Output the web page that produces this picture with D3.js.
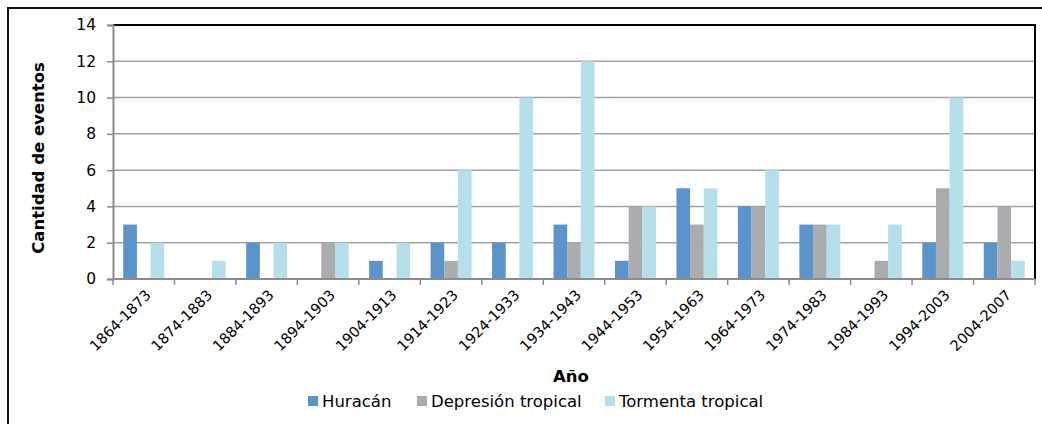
<!DOCTYPE html>
<html><head><meta charset="utf-8">
<script src="https://cdn.jsdelivr.net/npm/d3@7"></script>
<style>body{margin:0;background:#fff}svg{display:block}text{font-family:Tahoma,"DejaVu Sans",sans-serif}</style>
</head><body><svg id="c" width="1042" height="424"></svg>
<script>
const categories = ["1864-1873","1874-1883","1884-1893","1894-1903","1904-1913","1914-1923","1924-1933","1934-1943","1944-1953","1954-1963","1964-1973","1974-1983","1984-1993","1994-2003","2004-2007"];
const seriesNames = ["Huracán","Depresión tropical","Tormenta tropical"];
const huracan = [3,0,2,0,1,2,2,3,1,5,4,3,0,2,2];
const depresion = [0,0,0,2,0,1,0,2,4,3,4,3,1,5,4];
const tormenta = [2,1,2,2,2,6,10,12,4,5,6,3,3,10,1];
const yTicks = [0,2,4,6,8,10,12,14];
const colors = ["#5B94CB","#ABACB0","#B5DFEA"];
const values = [huracan, depresion, tormenta];

const svg = d3.select("#c");
const L=113, R=1035, T=25, B=279;
// outer frame
svg.append("rect").attr("x",8).attr("y",8).attr("width",1050).attr("height",430).attr("fill","none").attr("stroke","#111").attr("stroke-width",2);

const x = d3.scaleBand().domain(categories).range([L,R]).paddingInner(0.333).paddingOuter(0.1667);
const xs = d3.scaleBand().domain(seriesNames).range([0,x.bandwidth()]);
const y = d3.scaleLinear().domain([0,14]).range([B,T]);

// grid
svg.append("g").selectAll("line").data(yTicks.filter(d=>d>0 && d<14)).join("line")
  .attr("x1",L).attr("x2",R).attr("y1",d=>y(d)).attr("y2",d=>y(d)).attr("stroke","#a3a3a3").attr("stroke-width",1.5);

// bars
seriesNames.forEach((s,i)=>{
  svg.append("g").selectAll("rect").data(categories.map((c,j)=>({c,v:values[i][j]}))).join("rect")
    .attr("x",d=>x(d.c)+xs(s)).attr("width",xs.bandwidth())
    .attr("y",d=>y(d.v)).attr("height",d=>y(0)-y(d.v)).attr("fill",colors[i]);
});

// plot border top/right
svg.append("path").attr("d",`M${L},${T}H${R}V${B}`).attr("fill","none").attr("stroke","#000").attr("stroke-width",2);

// y axis
const ya = svg.append("g").attr("transform",`translate(${L},0)`).call(d3.axisLeft(y).tickValues(yTicks).tickSize(6).tickPadding(11));
ya.select(".domain").attr("stroke","#8c8c8c").attr("stroke-width",2);
ya.selectAll(".tick line").attr("stroke","#8c8c8c").attr("stroke-width",1.5);
ya.selectAll("text").attr("font-size",15.5).attr("fill","#000");

// x axis
const xb = d3.scaleLinear().domain([0,categories.length]).range([L,R]);
const xa = svg.append("g").attr("transform",`translate(0,${B})`);
xa.append("line").attr("x1",L).attr("x2",R).attr("stroke","#8c8c8c").attr("stroke-width",2);
xa.selectAll("line.t").data(d3.range(categories.length+1)).join("line").attr("class","t")
  .attr("x1",d=>xb(d)).attr("x2",d=>xb(d)).attr("y1",0).attr("y2",6).attr("stroke","#8c8c8c").attr("stroke-width",1.5);
xa.selectAll("text").data(categories).join("text")
  .attr("transform",d=>`translate(${x(d)+x.bandwidth()/2+8},${17}) rotate(-45)`)
  .attr("text-anchor","end").attr("font-size",14.5).attr("fill","#000").text(d=>d);

// axis titles
svg.append("text").attr("transform",`translate(44,${(T+B)/2+6}) rotate(-90)`).attr("text-anchor","middle")
  .attr("font-size",16.5).attr("font-weight","bold").text("Cantidad de eventos");
svg.append("text").attr("x",571).attr("y",382).attr("text-anchor","middle").attr("font-size",16.5).attr("font-weight","bold").text("Año");

// legend
const legX = [308,417,605];
seriesNames.forEach((s,i)=>{
  svg.append("rect").attr("x",legX[i]).attr("y",396).attr("width",10).attr("height",10).attr("fill",colors[i]);
  svg.append("text").attr("x",legX[i]+14).attr("y",407).attr("font-size",16.5).attr("fill","#000").text(s);
});
</script></body></html>
